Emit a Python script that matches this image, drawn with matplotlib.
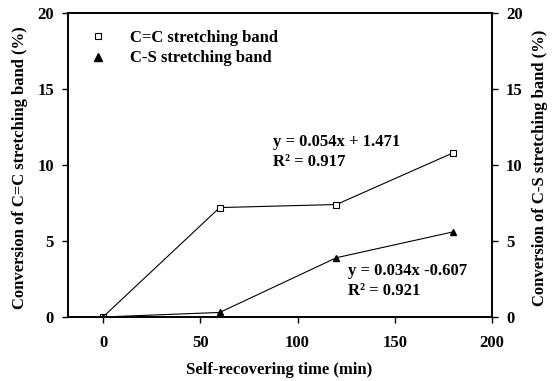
import matplotlib
matplotlib.use("Agg")
import matplotlib.pyplot as plt
from matplotlib.lines import Line2D

time_min = [0, 60, 120, 180]
cc_conv = [0.0, 7.2, 7.4, 10.8]
cs_conv = [0.0, 0.3, 3.9, 5.6]
x_ticks = [0, 50, 100, 150, 200]
y_ticks = [0, 5, 10, 15, 20]

plt.rcParams['font.family'] = ['Liberation Serif', 'DejaVu Serif']
plt.rcParams['font.weight'] = 'bold'
plt.rcParams['font.size'] = 12

fig = plt.figure(figsize=(5.52, 3.81), dpi=100)
ax = fig.add_axes([68/552, 64/381, 424/552, 304/381])

ax.plot(time_min, cc_conv, color='black', lw=0.8, marker='s', ms=4.5,
        mfc='white', mec='black', mew=0.8)
ax.plot(time_min, cs_conv, color='black', lw=0.8, marker='^', ms=5,
        mfc='black', mec='black')

ax.set_xlim(-18, 200)
ax.set_ylim(0, 20)
ax.set_xticks(x_ticks)
ax.set_yticks(y_ticks)
for s in ax.spines.values():
    s.set_linewidth(1.2)
ax.tick_params(direction='out', width=1.0, length=4, labelsize=12)
ax.tick_params(axis='x', pad=9)
ax.tick_params(axis='y', pad=6)
ax.set_xlabel('Self-recovering time (min)', fontsize=12, fontweight='bold')
ax.xaxis.set_label_coords(0.497, -0.174)
ax.xaxis.label.set_va('center')
ax.set_ylabel('Conversion of C=C stretching band (%)', fontsize=12, fontweight='bold')
ax.yaxis.set_label_coords(-0.113, 0.49)
ax.yaxis.label.set_va('center')

ax2 = ax.twinx()
ax2.set_ylim(0, 20)
ax2.set_yticks(y_ticks)
ax2.tick_params(direction='out', width=1.0, length=4, labelsize=12, pad=6)
for s in ax2.spines.values():
    s.set_linewidth(1.2)
ax2.set_ylabel('Conversion of C-S stretching band (%)', fontsize=12, fontweight='bold')
ax2.yaxis.set_label_coords(1.113, 0.49)
ax2.yaxis.label.set_va('center')

handles = [
    Line2D([], [], ls='none', marker='s', ms=4.5, mfc='white', mec='black', mew=0.8),
    Line2D([], [], ls='none', marker='^', ms=5.5, mfc='black', mec='black'),
]
ax.legend(handles, ['C=C stretching band', 'C-S stretching band'],
          loc='upper left', bbox_to_anchor=(0.035, 0.965), frameon=False,
          fontsize=12, handlelength=1.0, handletextpad=1.4, labelspacing=0.25,
          borderaxespad=0)

ax.text(87.4, 10.85, 'y = 0.054x + 1.471\nR² = 0.917', fontsize=12, fontweight='bold',
        ha='left', va='center', linespacing=1.3)
ax.text(126, 2.35, 'y = 0.034x -0.607\nR² = 0.921', fontsize=12, fontweight='bold',
        ha='left', va='center', linespacing=1.3)

fig.savefig('out.png', dpi=100)
